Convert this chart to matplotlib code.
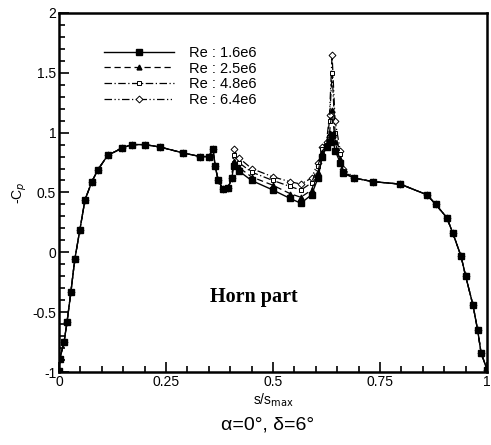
import matplotlib
matplotlib.use("Agg")
import matplotlib.pyplot as plt
from matplotlib.ticker import MultipleLocator

plt.rcParams['font.family'] = ['Liberation Sans', 'DejaVu Sans']

# wspolrzedna wzdluz profilu
s = [0.000, 0.002, 0.012, 0.019, 0.028, 0.037, 0.049, 0.061, 0.077, 0.091,
     0.114, 0.147, 0.17, 0.20, 0.236, 0.29, 0.33, 0.35, 0.36, 0.365,
     0.372, 0.383, 0.395, 0.404,
     0.408, 0.42, 0.45, 0.50, 0.54, 0.565, 0.59, 0.605, 0.615, 0.625,
     0.632, 0.638, 0.645, 0.657, 0.664,
     0.69, 0.734, 0.797, 0.86, 0.88, 0.906, 0.92, 0.939, 0.95, 0.967,
     0.978, 0.986, 1.0]

head = [-0.99, -0.89, -0.75, -0.58, -0.33, -0.06, 0.19, 0.44, 0.59, 0.69,
        0.81, 0.87, 0.90, 0.90, 0.88, 0.83, 0.80, 0.80, 0.86, 0.72,
        0.60, 0.53, 0.54, 0.62]
tail = [0.62, 0.59, 0.57, 0.48, 0.40, 0.29, 0.16, -0.03, -0.20, -0.44,
        -0.65, -0.84, -0.98]

cp_16 = head + [0.72, 0.68, 0.60, 0.52, 0.45, 0.41, 0.48, 0.62, 0.80, 0.88,
                0.92, 0.98, 0.85, 0.75, 0.66] + tail
cp_25 = head + [0.76, 0.71, 0.63, 0.56, 0.49, 0.46, 0.52, 0.67, 0.84, 0.90,
                1.00, 1.19, 0.92, 0.78, 0.67] + tail
cp_48 = head + [0.81, 0.75, 0.67, 0.60, 0.55, 0.52, 0.58, 0.72, 0.86, 0.90,
                1.10, 1.50, 1.00, 0.82, 0.68] + tail
cp_64 = head + [0.86, 0.79, 0.70, 0.63, 0.59, 0.57, 0.62, 0.75, 0.88, 0.92,
                1.15, 1.65, 1.10, 0.85, 0.70] + tail

labels = ['Re : 1.6e6', 'Re : 2.5e6', 'Re : 4.8e6', 'Re : 6.4e6']

fig = plt.figure(figsize=(4.91, 4.45), dpi=100)
ax = fig.add_axes([0.120, 0.164, 0.872, 0.807])

ax.plot(s, cp_64, color='black', lw=0.9, linestyle=(0, (6, 2, 1, 2, 1, 2)),
        marker='D', ms=3.5, mfc='white', mec='black', mew=0.7, label=labels[3])
ax.plot(s, cp_48, color='black', lw=0.9, linestyle=(0, (6, 2, 1, 2)),
        marker='s', ms=3.5, mfc='white', mec='black', mew=0.7, label=labels[2])
ax.plot(s, cp_25, color='black', lw=0.9, linestyle=(0, (5, 3)),
        marker='^', ms=3.5, mfc='black', mec='black', label=labels[1])
ax.plot(s, cp_16, color='black', lw=1.0, linestyle='-',
        marker='s', ms=4, mfc='black', mec='black', label=labels[0])

handles, labs = ax.get_legend_handles_labels()
ax.legend(handles[::-1], labs[::-1], loc='upper left', bbox_to_anchor=(0.075, 0.945),
          frameon=False, fontsize=10.5, handlelength=4.8, handletextpad=1.0,
          labelspacing=0.12)

ax.set_xlim(0, 1)
ax.set_ylim(-1, 2)
ax.set_xticks([0, 0.25, 0.5, 0.75, 1])
ax.set_xticklabels(['0', '0.25', '0.5', '0.75', '1'])
ax.set_yticks([-1, -0.5, 0, 0.5, 1, 1.5, 2])
ax.set_yticklabels(['-1', '-0.5', '0', '0.5', '1', '1.5', '2'])
ax.xaxis.set_minor_locator(MultipleLocator(0.05))
ax.yaxis.set_minor_locator(MultipleLocator(0.1))
ax.tick_params(which='both', direction='in', top=False, right=False,
               labelsize=10, width=1.2)
ax.tick_params(which='major', length=7, pad=2)
ax.tick_params(which='minor', length=4)
for sp in ax.spines.values():
    sp.set_linewidth(1.8)

ax.set_xlabel('s/s$_{\\rm max}$', fontsize=10, labelpad=2)
ax.set_ylabel('-C$_p$', fontsize=10, labelpad=2)

ax.text(0.455, -0.37, 'Horn part', fontsize=14.5, fontweight='bold',
        family='Liberation Serif', ha='center', va='center')
fig.text(0.545, 0.045, 'α=0°, δ=6°', fontsize=14, ha='center', va='center')

fig.savefig('out.png', dpi=100)
